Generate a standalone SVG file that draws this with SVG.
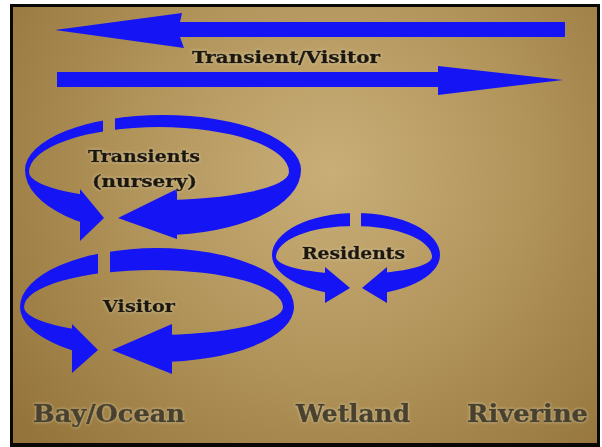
<svg xmlns="http://www.w3.org/2000/svg" width="602" height="447" viewBox="0 0 602 447">
<defs>
<radialGradient id="bg" gradientUnits="userSpaceOnUse" cx="330" cy="170" r="400">
<stop offset="0" stop-color="#c9ae78"/>
<stop offset="0.5" stop-color="#b1945a"/>
<stop offset="1" stop-color="#94743a"/>
</radialGradient>
<filter id="glow" x="-10%" y="-30%" width="120%" height="160%">
<feGaussianBlur in="SourceAlpha" stdDeviation="1.6" result="b"/>
<feFlood flood-color="#efe0b4" flood-opacity="0.7"/>
<feComposite in2="b" operator="in"/>
<feMerge><feMergeNode/><feMergeNode in="SourceGraphic"/></feMerge>
</filter>
<clipPath id="cT">
<rect x="0" y="0" width="80" height="447"/>
<rect x="177" y="0" width="425" height="447"/>
<rect x="0" y="0" width="103" height="176"/>
<rect x="115" y="0" width="487" height="176"/>
</clipPath>
<clipPath id="cV">
<rect x="0" y="0" width="72" height="447"/>
<rect x="172" y="0" width="430" height="447"/>
<rect x="0" y="0" width="98" height="314"/>
<rect x="110" y="0" width="492" height="314"/>
</clipPath>
<clipPath id="cR">
<rect x="0" y="0" width="325" height="447"/>
<rect x="387" y="0" width="215" height="447"/>
<rect x="0" y="0" width="350" height="262"/>
<rect x="361" y="0" width="241" height="262"/>
</clipPath>
</defs>
<style>
.blue{fill:#1414f4;}
.lbl{font-family:"DejaVu Serif","Liberation Serif",serif;font-weight:bold;fill:#1c150c;stroke:#1c150c;stroke-width:0.6;}
.reg{font-family:"DejaVu Serif","Liberation Serif",serif;font-weight:bold;fill:#48412f;stroke:#48412f;stroke-width:0.6;font-size:24px;}
</style>
<rect x="0" y="0" width="602" height="447" fill="#ffffff"/>
<rect x="10" y="4" width="590" height="443" fill="#0a0805"/>
<rect x="13" y="7" width="584" height="436" fill="url(#bg)"/>

<g id="connectors">
<polygon class="blue" points="55,30 182,13 180,22 565,22 565,37 180,37 184,48"/>
<polygon class="blue" points="57,72 438,72 438,66 563,80 438,95 438,87 57,87"/>
</g>

<g id="transients">
<path class="blue" fill-rule="evenodd" clip-path="url(#cT)" d="M25,170 A138 55 0 0 1 301,170 A138 65 0 0 1 25,170 Z M29,172 A130 45 0 0 1 289,172 A130 28 0 0 1 29,172 Z"/>
<polygon class="blue" points="80,189 104,218 80,241"/>
<polygon class="blue" points="118,218 177,189 177,239"/>
<text class="lbl" x="88" y="162" font-size="17" textLength="112" lengthAdjust="spacingAndGlyphs" filter="url(#glow)">Transients</text>
<text class="lbl" x="92" y="187" font-size="17" textLength="105" lengthAdjust="spacingAndGlyphs" filter="url(#glow)">(nursery)</text>
</g>

<g id="visitor">
<path class="blue" fill-rule="evenodd" clip-path="url(#cV)" d="M20,307 A137 59 0 0 1 294,307 A137 55 0 0 1 20,307 Z M24,307 A129.5 37 0 0 1 283,307 A129.5 28 0 0 1 24,307 Z"/>
<polygon class="blue" points="72,324 98,350 72,373"/>
<polygon class="blue" points="112,350 172,324 172,374"/>
<text class="lbl" x="103" y="312" font-size="17" textLength="72" lengthAdjust="spacingAndGlyphs" filter="url(#glow)">Visitor</text>
</g>

<g id="residents">
<path class="blue" fill-rule="evenodd" clip-path="url(#cR)" d="M272,255 A84 42 0 0 1 440,255 A84 40 0 0 1 272,255 Z M276,257 A78 31 0 0 1 432,257 A78 17 0 0 1 276,257 Z"/>
<polygon class="blue" points="325,267 350,288 325,303"/>
<polygon class="blue" points="362,288 387,267 387,303"/>
<text class="lbl" x="302" y="259" font-size="16" textLength="103" lengthAdjust="spacingAndGlyphs" filter="url(#glow)">Residents</text>
</g>

<g id="transient-visitor-label">
<text class="lbl" x="192" y="63" font-size="16" textLength="188" lengthAdjust="spacingAndGlyphs" filter="url(#glow)">Transient/Visitor</text>
</g>

<g id="bay-ocean"><text class="reg" x="33" y="422" textLength="152" lengthAdjust="spacingAndGlyphs" filter="url(#glow)">Bay/Ocean</text></g>
<g id="wetland"><text class="reg" x="296" y="422" textLength="114" lengthAdjust="spacingAndGlyphs" filter="url(#glow)">Wetland</text></g>
<g id="riverine"><text class="reg" x="467" y="422" textLength="121" lengthAdjust="spacingAndGlyphs" filter="url(#glow)">Riverine</text></g>
</svg>
